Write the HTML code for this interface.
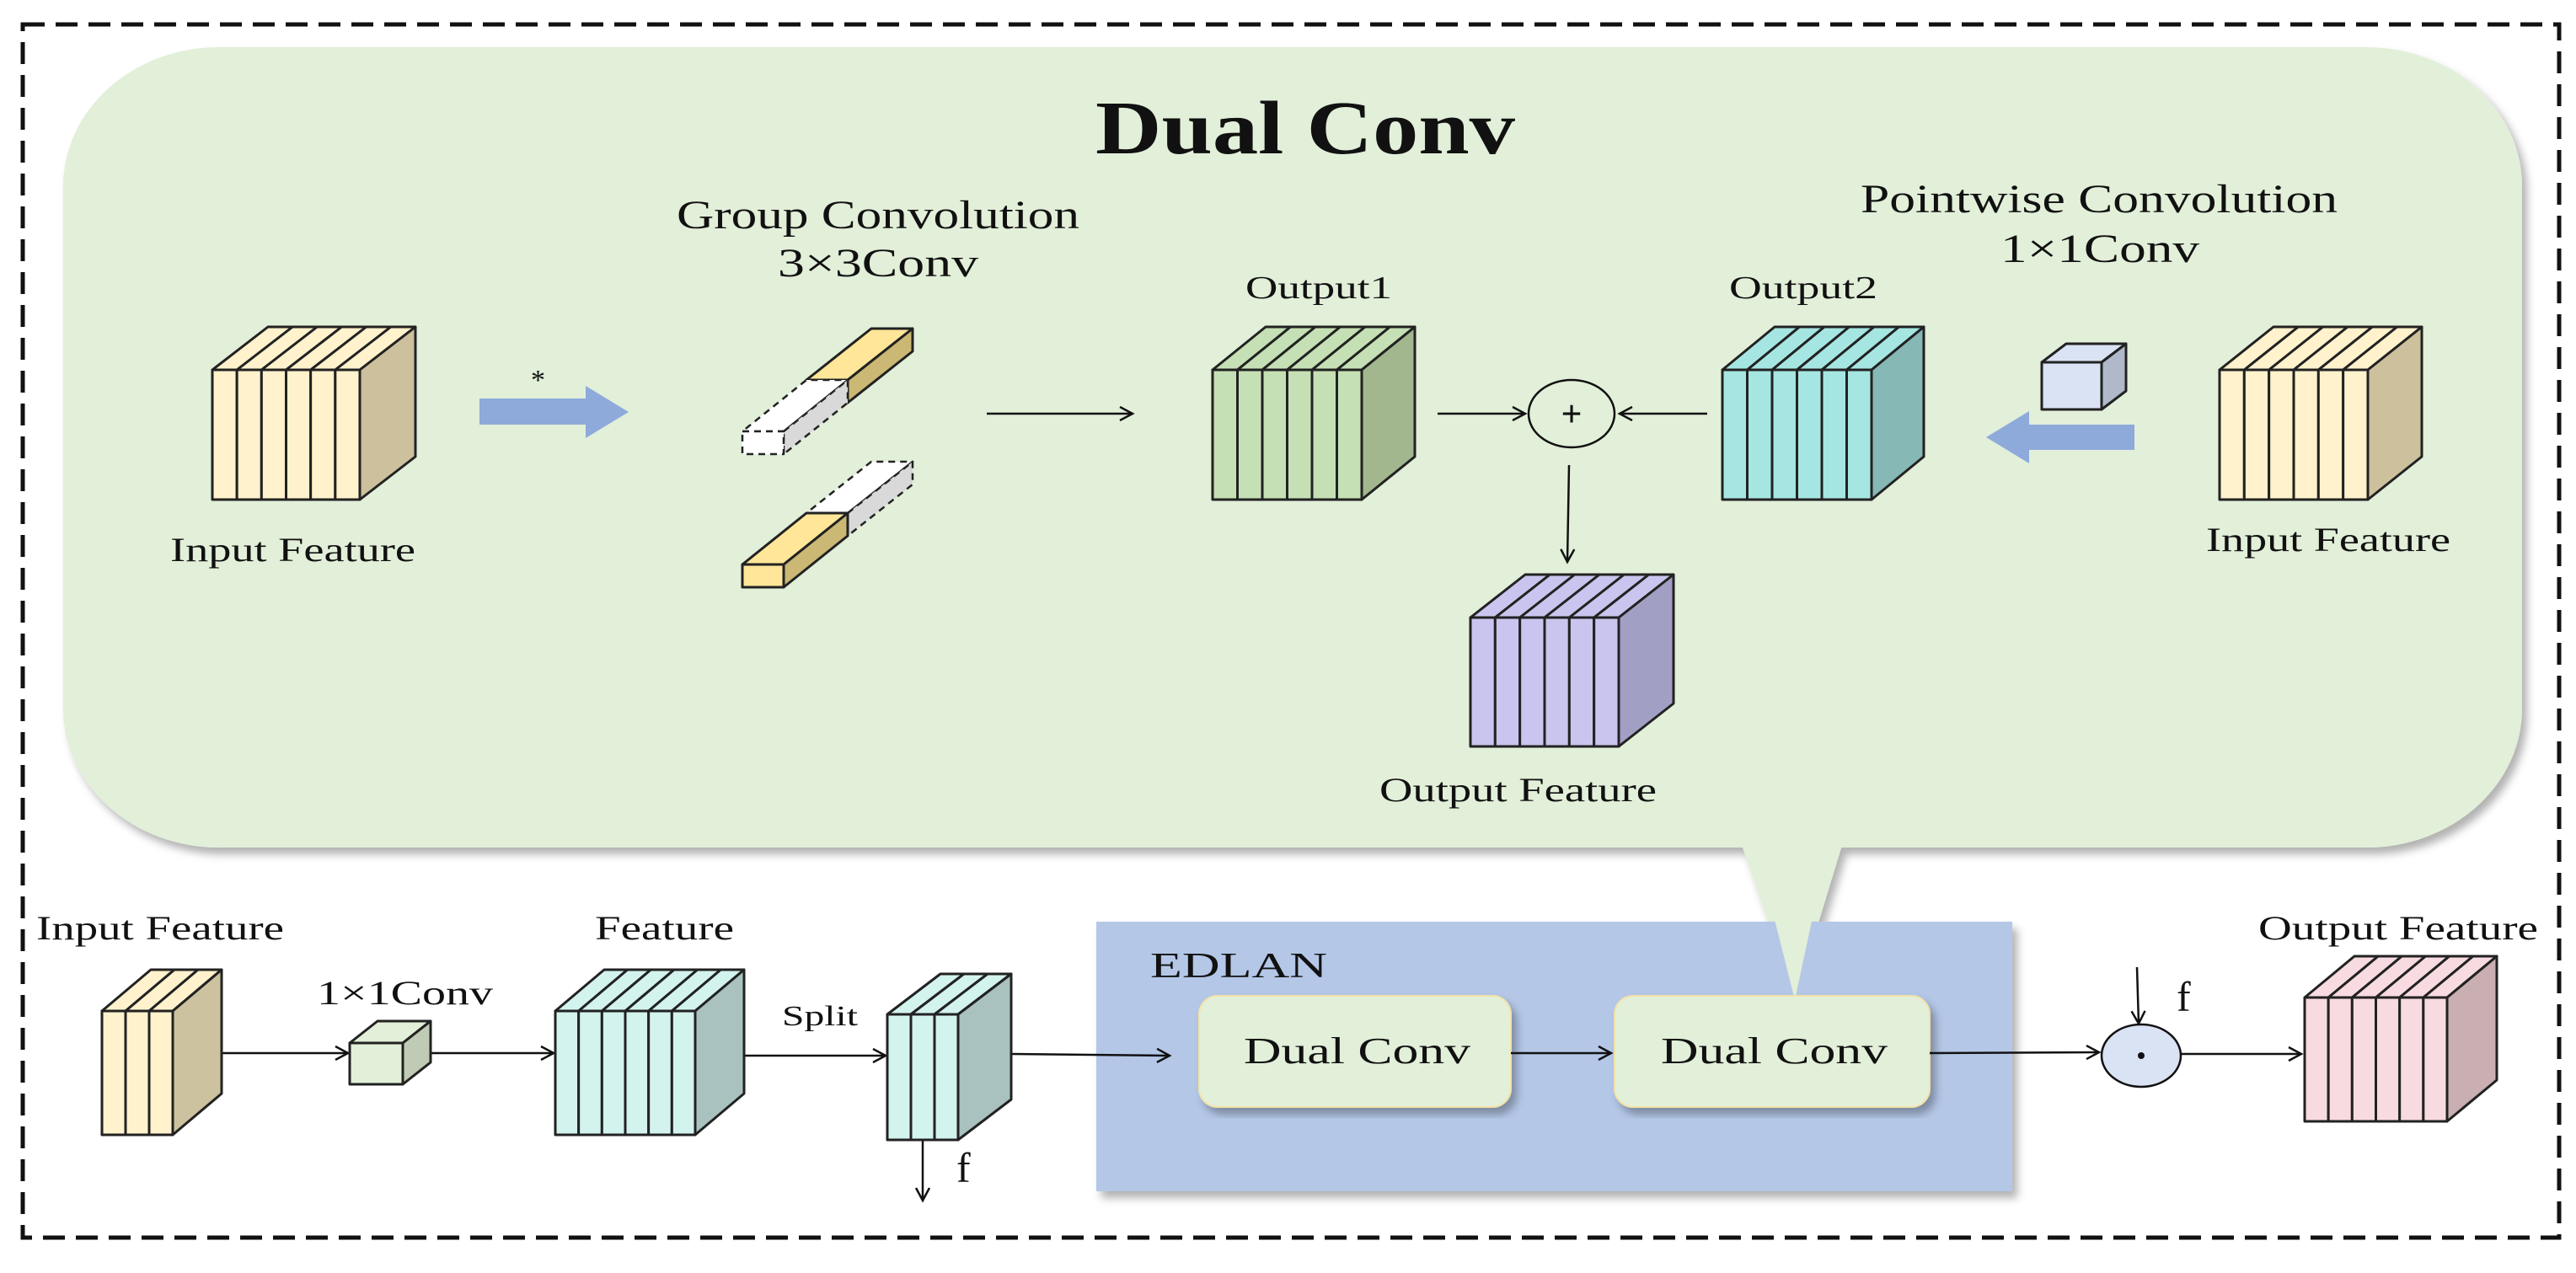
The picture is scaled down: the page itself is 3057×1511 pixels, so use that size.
<!DOCTYPE html>
<html><head><meta charset="utf-8"><style>
html,body{margin:0;padding:0;background:#fff;}
svg{display:block;}
text{font-family:"Liberation Serif",serif;fill:#111;}
</style></head><body>
<svg id="s" xmlns="http://www.w3.org/2000/svg" width="3057" height="1511" viewBox="0 0 3057 1511">
<defs>
<filter id="sh" x="-5%" y="-5%" width="110%" height="115%"><feDropShadow dx="6" dy="8" stdDeviation="5" flood-color="#000" flood-opacity="0.3"/></filter>
<marker id="ah" markerWidth="20" markerHeight="20" refX="17" refY="10" orient="auto" markerUnits="userSpaceOnUse"><path d="M2,2 L17,10 L2,18" fill="none" stroke="#111" stroke-width="2.5"/></marker>
</defs>
<rect x="27" y="29" width="3010" height="1440" fill="none" stroke="#111" stroke-width="5" stroke-dasharray="26,13"/>
<g filter="url(#sh)">
<rect x="75" y="56" width="2918" height="950" rx="185" ry="165" fill="#e2efd9"/>
<polygon points="2066,1000 2187,1000 2130,1187" fill="#e2efd9"/>
</g>
<text x="1300" y="182" font-size="90" font-weight="bold" textLength="498" lengthAdjust="spacingAndGlyphs">Dual Conv</text>
<text x="803" y="271" font-size="48" textLength="478" lengthAdjust="spacingAndGlyphs">Group Convolution</text>
<text x="923" y="328" font-size="48" textLength="238" lengthAdjust="spacingAndGlyphs">3×3Conv</text>
<text x="202" y="666" font-size="40" textLength="291" lengthAdjust="spacingAndGlyphs">Input Feature</text>
<text x="630" y="462" font-size="34">*</text>
<text x="1478" y="354" font-size="38" textLength="174" lengthAdjust="spacingAndGlyphs">Output1</text>
<text x="2052" y="354" font-size="38" textLength="176" lengthAdjust="spacingAndGlyphs">Output2</text>
<text x="2208" y="252" font-size="48" textLength="566" lengthAdjust="spacingAndGlyphs">Pointwise Convolution</text>
<text x="2374" y="311" font-size="48" textLength="236" lengthAdjust="spacingAndGlyphs">1×1Conv</text>
<text x="2618" y="654" font-size="40" textLength="290" lengthAdjust="spacingAndGlyphs">Input Feature</text>
<text x="1637" y="951" font-size="40" textLength="329" lengthAdjust="spacingAndGlyphs">Output Feature</text>

<!-- fat arrows -->
<polygon points="569,473 695,473 695,458 746,489 695,520 695,504 569,504" fill="#8eaadb"/>
<polygon points="2533,504 2408,504 2408,488 2357,519 2408,550 2408,534 2533,534" fill="#8eaadb"/>

<!-- thin arrows top -->
<g stroke="#111" stroke-width="2.5" fill="none" marker-end="url(#ah)">
<line x1="1171" y1="491" x2="1344" y2="491"/>
<line x1="1706" y1="491" x2="1810" y2="491"/>
<line x1="2026" y1="491" x2="1922" y2="491"/>
<line x1="1862" y1="552" x2="1860" y2="667"/>
</g>
<ellipse cx="1865" cy="491" rx="51" ry="40" fill="none" stroke="#111" stroke-width="2.5"/>
<text x="1865" y="506" font-size="44" font-weight="bold" text-anchor="middle">+</text>

<!-- bottom -->
<g filter="url(#sh)">
<rect x="1301" y="1094" width="1087" height="320" fill="#b4c7e7"/>
</g>
<polygon points="2083,1000 2170,1000 2130,1187" fill="#e2efd9"/>
<g filter="url(#sh)">
<rect x="1423" y="1182" width="370" height="132" rx="22" fill="#e2efd9" stroke="#f3e3a8" stroke-width="2"/>
<rect x="1916" y="1182" width="374" height="132" rx="22" fill="#e2efd9" stroke="#f3e3a8" stroke-width="2"/>
</g>
<text x="1365" y="1160" font-size="42" textLength="210" lengthAdjust="spacingAndGlyphs">EDLAN</text>
<text x="1476" y="1262" font-size="44" textLength="269" lengthAdjust="spacingAndGlyphs">Dual Conv</text>
<text x="1971" y="1262" font-size="44" textLength="269" lengthAdjust="spacingAndGlyphs">Dual Conv</text>
<text x="43" y="1115" font-size="40" textLength="294" lengthAdjust="spacingAndGlyphs">Input Feature</text>
<text x="706" y="1115" font-size="40" textLength="165" lengthAdjust="spacingAndGlyphs">Feature</text>
<text x="2680" y="1115" font-size="40" textLength="332" lengthAdjust="spacingAndGlyphs">Output Feature</text>
<text x="376" y="1192" font-size="40" textLength="209" lengthAdjust="spacingAndGlyphs">1×1Conv</text>
<text x="928" y="1217" font-size="34" textLength="90" lengthAdjust="spacingAndGlyphs">Split</text>
<text x="1135" y="1403" font-size="50">f</text>
<text x="2583" y="1200" font-size="50">f</text>
<g stroke="#111" stroke-width="2.5" fill="none" marker-end="url(#ah)">
<line x1="263" y1="1250" x2="413" y2="1250"/>
<line x1="511" y1="1250" x2="657" y2="1250"/>
<line x1="883" y1="1253" x2="1051" y2="1253"/>
<line x1="1200" y1="1251" x2="1388" y2="1253"/>
<line x1="1793" y1="1250" x2="1912" y2="1250"/>
<line x1="2290" y1="1250" x2="2491" y2="1249"/>
<line x1="2589" y1="1251" x2="2731" y2="1251"/>
<line x1="1095" y1="1353" x2="1095" y2="1425"/>
<line x1="2536" y1="1148" x2="2538" y2="1215"/>
</g>
<ellipse cx="2541" cy="1253" rx="47" ry="37" fill="#dae3f3" stroke="#111" stroke-width="2.5"/>
<circle cx="2541" cy="1253" r="4" fill="#111"/>
<g id="cubes"></g>
</svg>
<script>
var g=document.getElementById('cubes'),NS='http://www.w3.org/2000/svg';
function el(t,a){var e=document.createElementNS(NS,t);for(var k in a)e.setAttribute(k,a[k]);g.appendChild(e);return e;}
function poly(p,f,extra){var a={points:p.map(function(q){return q.join(',')}).join(' '),fill:f,stroke:'#222','stroke-width':3,'stroke-linejoin':'round'};if(extra)for(var k in extra)a[k]=extra[k];return el('polygon',a);}
function cube(x,y,w,h,n,dx,dy,fr,sd){var sw=w/n;
 for(var i=0;i<n;i++){poly([[x+i*sw,y],[x+(i+1)*sw,y],[x+(i+1)*sw+dx,y+dy],[x+i*sw+dx,y+dy]],fr);}
 poly([[x+w,y],[x+w+dx,y+dy],[x+w+dx,y+h+dy],[x+w,y+h]],sd);
 for(var i=0;i<n;i++){poly([[x+i*sw,y],[x+(i+1)*sw,y],[x+(i+1)*sw,y+h],[x+i*sw,y+h]],fr);}
}
function prism(x,y,w,h,dx,dy,fr,tp,sd,dash){var ex=dash?{'stroke-dasharray':'8,6','stroke-width':2.5}:null;
 poly([[x,y],[x+w,y],[x+w+dx,y+dy],[x+dx,y+dy]],tp,ex);
 poly([[x+w,y],[x+w+dx,y+dy],[x+w+dx,y+h+dy],[x+w,y+h]],sd,ex);
 poly([[x,y],[x+w,y],[x+w,y+h],[x,y+h]],fr,ex);}
cube(252,439,175,154,6,66,-51,'#fff2cc','#ccc09d');
cube(1439,439,177,154,6,63,-51,'#c5e0b4','#a2b78e');
cube(2044,439,177,154,6,62,-51,'#a6e6e2','#86b8b5');
cube(2634,439,176,154,6,64,-51,'#fff2cc','#ccc09d');
cube(1745,733,176,153,6,65,-51,'#c9c5ee','#a29fc4');
cube(2423,430,71,56,1,29,-22,'#dae3f3','#afb9c9');
// group conv prisms
prism(957,451,49,27,77,-61,'#ffe699','#ffe699','#cbb874',false);
prism(881,512,49,27,76,-61,'#ffffff','#ffffff','#d9d9d9',true);
prism(957,609,49,27,77,-61,'#ffffff','#ffffff','#d9d9d9',true);
prism(881,670,49,27,76,-61,'#ffe699','#ffe699','#cbb874',false);
// bottom cubes
cube(121,1200,84,147,3,58,-49,'#fff2cc','#ccc29f');
cube(415,1238,63,49,1,33,-26,'#e2efd9','#c0cbb5');
cube(659,1200,166,147,6,58,-49,'#d3f3ee','#a9c2c0');
cube(1053,1204,84,149,3,63,-48,'#d3f3ee','#a9c2c0');
cube(2735,1184,169,147,6,59,-49,'#f8dbe0','#c9aeb2');
</script>
</body></html>
